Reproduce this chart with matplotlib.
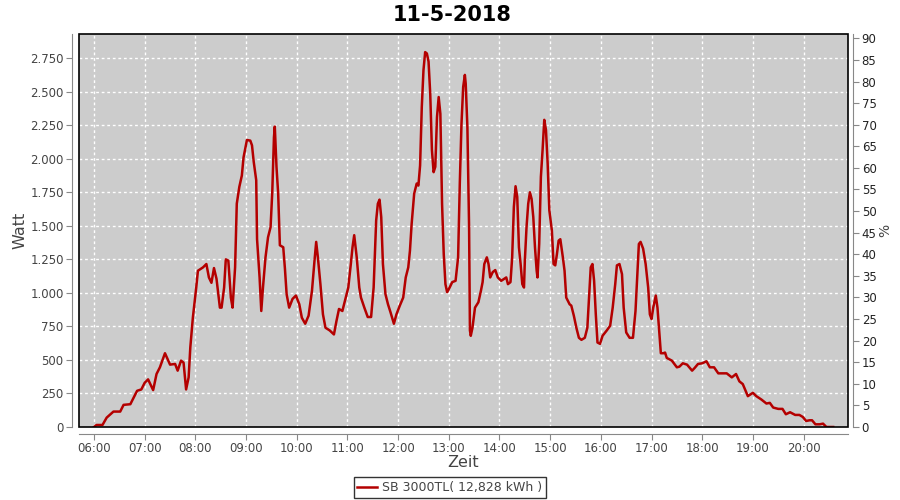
import matplotlib
matplotlib.use('Agg')
import matplotlib.pyplot as plt
from matplotlib.ticker import FuncFormatter
from matplotlib.patches import Rectangle

title = '11-5-2018'
series_label = 'SB 3000TL( 12,828 kWh )'

# time of day / power in W
times = [
    '06:00', '06:03', '06:10', '06:15', '06:23', '06:31', '06:35', '06:43', '06:51', '06:56',
    '07:00', '07:04', '07:10', '07:14', '07:18', '07:24', '07:30', '07:36', '07:39', '07:43',
    '07:46', '07:49', '07:52', '07:54', '07:57', '08:01', '08:03', '08:09', '08:13', '08:16',
    '08:19', '08:22', '08:25', '08:29', '08:31', '08:34', '08:36', '08:39', '08:42', '08:44',
    '08:47', '08:49', '08:52', '08:55', '08:57', '09:01', '09:05', '09:07', '09:09', '09:12',
    '09:13', '09:16', '09:18', '09:20', '09:23', '09:26', '09:29', '09:31', '09:33', '09:34',
    '09:36', '09:38', '09:40', '09:44', '09:46', '09:48', '09:51', '09:55', '09:59', '10:03',
    '10:06', '10:10', '10:14', '10:18', '10:21', '10:23', '10:25', '10:28', '10:31', '10:34',
    '10:39', '10:44', '10:47', '10:50', '10:54', '10:58', '11:01', '11:04', '11:06', '11:08',
    '11:11', '11:14', '11:16', '11:20', '11:24', '11:28', '11:31', '11:34', '11:36', '11:38',
    '11:40', '11:42', '11:45', '11:48', '11:51', '11:55', '11:58', '12:02', '12:06', '12:09',
    '12:12', '12:14', '12:16', '12:19', '12:22', '12:24', '12:26', '12:28', '12:30', '12:32',
    '12:34', '12:36', '12:38', '12:40', '12:42', '12:44', '12:46', '12:48', '12:50', '12:52',
    '12:54', '12:56', '12:58', '13:01', '13:04', '13:08', '13:11', '13:13', '13:15', '13:17',
    '13:19', '13:20', '13:22', '13:24', '13:25', '13:26', '13:28', '13:31', '13:35', '13:38',
    '13:40', '13:42', '13:45', '13:47', '13:49', '13:52', '13:55', '13:58', '14:02', '14:08',
    '14:10', '14:13', '14:15', '14:17', '14:19', '14:21', '14:23', '14:25', '14:27', '14:29',
    '14:30', '14:32', '14:34', '14:36', '14:38', '14:40', '14:42', '14:44', '14:45', '14:47',
    '14:49', '14:51', '14:53', '14:55', '14:57', '14:59', '15:02', '15:04', '15:06', '15:08',
    '15:10', '15:12', '15:15', '15:17', '15:19', '15:23', '15:25', '15:28', '15:31', '15:34',
    '15:37', '15:41', '15:44', '15:46', '15:48', '15:50', '15:52', '15:54', '15:56', '15:59',
    '16:02', '16:07', '16:11', '16:14', '16:17', '16:19', '16:22', '16:25', '16:27', '16:30',
    '16:34', '16:38', '16:41', '16:43', '16:45', '16:47', '16:50', '16:53', '16:56', '16:58',
    '17:00', '17:02', '17:05', '17:07', '17:09', '17:11', '17:14', '17:16', '17:18', '17:24',
    '17:30', '17:33', '17:37', '17:42', '17:48', '17:51', '17:55', '18:00', '18:05', '18:09',
    '18:14', '18:19', '18:25', '18:29', '18:35', '18:40', '18:44', '18:48', '18:54', '19:00',
    '19:04', '19:10', '19:16', '19:20', '19:24', '19:30', '19:35', '19:39', '19:44', '19:50',
    '19:55', '19:59', '20:03', '20:07', '20:10', '20:14', '20:19', '20:23', '20:27', '20:35',
]
watt = [
    0, 15, 15, 70, 115, 115, 165, 170, 270, 280,
    330, 355, 275, 395, 445, 550, 465, 470, 420, 495,
    480, 280, 370, 595, 815, 1040, 1165, 1190, 1215, 1115,
    1075, 1185, 1105, 890, 890, 1040, 1250, 1240, 965, 890,
    1190, 1665, 1790, 1875, 2010, 2140, 2135, 2100, 1980, 1840,
    1400, 1115, 865, 1040, 1265, 1415, 1490, 1750, 2160, 2240,
    1940, 1740, 1355, 1340, 1180, 990, 890, 955, 980, 915,
    815, 770, 830, 1015, 1240, 1380, 1265, 1065, 840, 740,
    720, 690, 790, 880, 865, 965, 1040, 1215, 1340, 1430,
    1265, 1040, 965, 890, 820, 820, 1040, 1540, 1665, 1695,
    1565, 1215, 990, 915, 855, 770, 840, 905, 965, 1115,
    1190, 1315, 1515, 1740, 1815, 1800, 1950, 2385, 2660, 2795,
    2785, 2725, 2485, 2065, 1900, 1940, 2310, 2460, 2335, 1665,
    1290, 1065, 1005, 1040, 1080, 1090, 1265, 1815, 2260, 2535,
    2625, 2560, 2235, 1490, 720, 680, 740, 890, 930, 1015,
    1080, 1215, 1265, 1215, 1115, 1155, 1170, 1115, 1090, 1115,
    1065, 1080, 1265, 1640, 1795, 1715, 1340, 1215, 1065, 1040,
    1240, 1490, 1665, 1750, 1700, 1565, 1340, 1165, 1115, 1365,
    1865, 2065, 2290, 2215, 1965, 1615, 1465, 1215, 1205, 1290,
    1390, 1400, 1265, 1165, 965, 915, 905, 830, 740, 665,
    650, 665, 740, 965, 1190, 1215, 1090, 840, 630, 620,
    680, 720, 755, 890, 1065, 1205, 1215, 1140, 890, 705,
    665, 665, 865, 1115, 1365, 1380, 1330, 1215, 1040, 840,
    805, 890, 980, 890, 720, 550, 550, 555, 515, 495,
    445, 450, 475, 465, 420, 440, 470, 475, 490, 445,
    445, 400, 400, 400, 370, 395, 340, 320, 230, 255,
    230, 205, 175, 180, 145, 135, 135, 95, 110, 90,
    90, 75, 45, 50, 50, 20, 20, 25, 0, 0,
]

hour_ticks = list(range(6, 21))
watt_ticks = list(range(0, 2751, 250))
pct_ticks = list(range(0, 91, 5))

hours = [int(t[:2]) + int(t[3:]) / 60 for t in times]

txt = '#444444'
axc = '#888888'

fig = plt.figure(figsize=(9, 5), dpi=100)
ax = fig.add_axes([0.0878, 0.146, 0.8542, 0.786])
ax.set_facecolor('#cccccc')

ax.plot(hours, watt, color='#b40000', lw=1.8, label=series_label, zorder=3)

ax.set_xlim(5.704, 20.872)
ax.set_ylim(0, 2930)
ax.set_xticks(hour_ticks)
ax.xaxis.set_major_formatter(FuncFormatter(lambda v, p: f'{int(round(v)):02d}:00'))
ax.set_yticks(watt_ticks)
ax.yaxis.set_major_formatter(FuncFormatter(lambda v, p: f'{int(v):,}'.replace(',', '.')))

ax.grid(True, color='white', linestyle=(0, (2, 2)), lw=1, zorder=1)
ax.set_axisbelow(True)

for s in ['top', 'right']:
    ax.spines[s].set_visible(False)
for s in ['left', 'bottom']:
    ax.spines[s].set_position(('outward', 5))
    ax.spines[s].set_color(axc)
ax.add_patch(Rectangle((0, 0), 1, 1, transform=ax.transAxes, fill=False,
                       edgecolor='black', lw=1.2, clip_on=False, zorder=5))

ax.tick_params(axis='both', colors=axc, labelcolor=txt, labelsize=8.5,
               length=4, direction='out', pad=2)

ax2 = ax.twinx()
ax2.set_ylim(0, 91)
ax2.set_yticks(pct_ticks)
for s in ['top', 'left', 'bottom']:
    ax2.spines[s].set_visible(False)
ax2.spines['right'].set_position(('outward', 4))
ax2.spines['right'].set_color(axc)
ax2.tick_params(axis='y', colors=axc, labelcolor='#222222', labelsize=8.5,
                length=4, direction='out', pad=2)
ax2.set_ylabel('%', color=txt, fontsize=10, labelpad=1)

ax.set_xlabel('Zeit', color=txt, fontsize=11.5, labelpad=0)
ax.set_ylabel('Watt', color=txt, fontsize=11.5, labelpad=2)

fig.suptitle(title, fontsize=15, fontweight='bold', x=0.502, y=0.99)

leg = fig.legend(loc='lower center', bbox_to_anchor=(0.5, -0.008), fontsize=9,
                 frameon=True, fancybox=False, edgecolor='black',
                 handlelength=1.6, borderpad=0.3, handletextpad=0.4)
leg.get_frame().set_linewidth(1)
for t in leg.get_texts():
    t.set_color(txt)

fig.savefig('out.png', dpi=100, facecolor='white')
